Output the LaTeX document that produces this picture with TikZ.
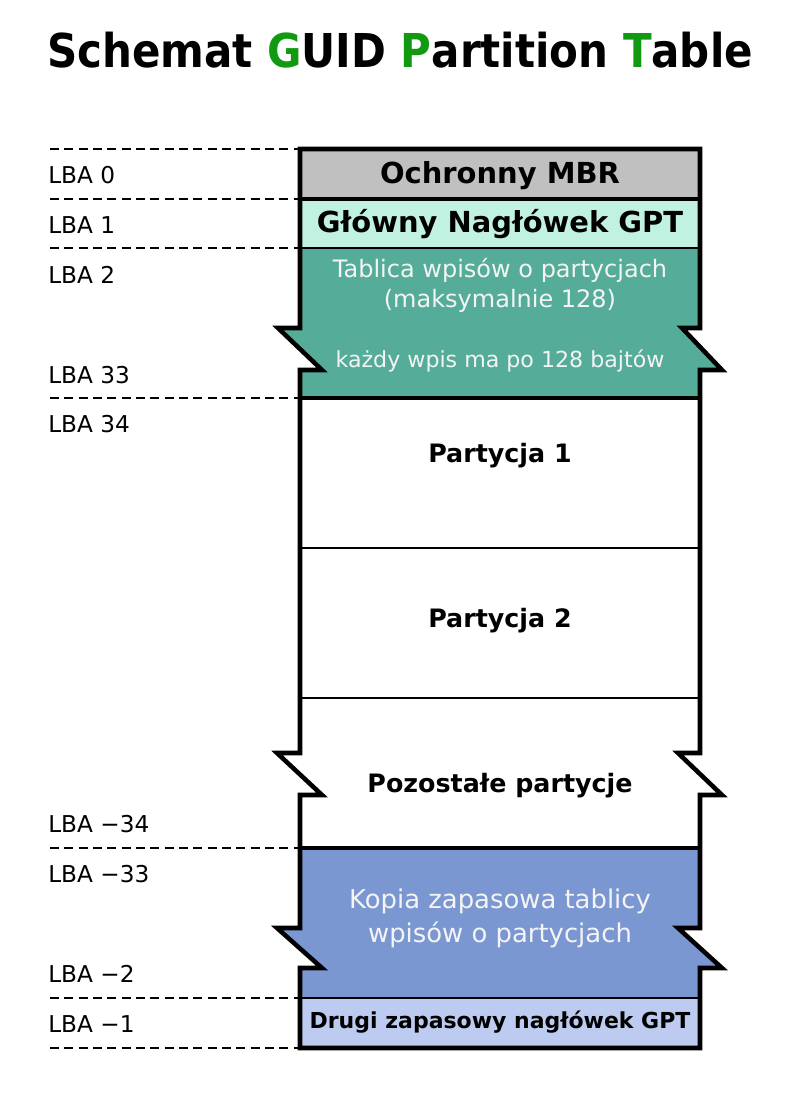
\documentclass[tikz,border=0pt]{standalone}
\usepackage{fontspec}
\setmainfont{DejaVu Sans}
\newfontfamily\titlefont{DejaVu Sans Condensed}
\definecolor{mbrgray}{HTML}{C0C0C0}
\definecolor{hdrmint}{HTML}{C1F1E1}
\definecolor{tblteal}{HTML}{55AD99}
\definecolor{bkblue}{HTML}{7B97D1}
\definecolor{bkhdr}{HTML}{BCCBEF}
\definecolor{ttlgreen}{HTML}{119A11}
\definecolor{wtext}{HTML}{F4F4F4}
\tikzset{
  outline/.style={line width=3.4pt, line join=miter, miter limit=10},
  thickdiv/.style={line width=3pt},
  thindiv/.style={line width=1.5pt},
  lbaline/.style={dashed, line width=1.6pt, dash pattern=on 6.75pt off 4pt},
  lba/.style={anchor=base west, inner sep=0pt, font=\fontsize{17.4}{20}\selectfont},
  boldlbl/.style={anchor=base, inner sep=0pt, font=\bfseries\fontsize{21.7}{25}\selectfont},
  partlbl/.style={anchor=base, inner sep=0pt, font=\bfseries\fontsize{19}{22}\selectfont},
  whitelbl/.style={anchor=base, inner sep=0pt, text=wtext},
}
\begin{document}
\begin{tikzpicture}[x=0.75pt, y=-0.75pt]
\useasboundingbox (0,0) rectangle (800,1100);
\fill[white] (0,0) rectangle (800,1100);

% Title
\node[anchor=base, inner sep=0pt, font=\titlefont\bfseries\fontsize{35}{40}\selectfont] (title) at (400,67)
  {Schemat \textcolor{ttlgreen}{G}UID \textcolor{ttlgreen}{P}artition \textcolor{ttlgreen}{T}able};

% Region fills
\fill[mbrgray] (300,149) rectangle (700,199);
\fill[hdrmint] (300,199) rectangle (700,248);
\fill[tblteal] (300,248) -- (700,248) -- (700,328) -- (682,328) -- (722,370) -- (700,370) -- (700,398)
  -- (300,398) -- (300,370) -- (322,370) -- (278,328) -- (300,328) -- cycle;
\fill[white] (300,398) -- (700,398) -- (700,753) -- (678,753) -- (722,795) -- (700,795) -- (700,848)
  -- (300,848) -- (300,795) -- (322,795) -- (277,753) -- (300,753) -- cycle;
\fill[bkblue] (300,848) -- (700,848) -- (700,928) -- (678,928) -- (722,968) -- (700,968) -- (700,998)
  -- (300,998) -- (300,968) -- (322,968) -- (277,928) -- (300,928) -- cycle;
\fill[bkhdr] (300,998) rectangle (700,1048);

% Dividers
\draw[thickdiv] (300,199) -- (700,199);
\draw[thindiv] (300,248) -- (700,248);
\draw[thickdiv] (300,398) -- (700,398);
\draw[thindiv] (300,548) -- (700,548);
\draw[thindiv] (300,698) -- (700,698);
\draw[thickdiv] (300,848) -- (700,848);
\draw[thindiv] (300,998) -- (700,998);

% Outline
\draw[outline] (300,149) -- (700,149)
  -- (700,328) -- (682,328) -- (722,370) -- (700,370)
  -- (700,753) -- (678,753) -- (722,795) -- (700,795)
  -- (700,928) -- (678,928) -- (722,968) -- (700,968)
  -- (700,1048) -- (300,1048)
  -- (300,968) -- (322,968) -- (277,928) -- (300,928)
  -- (300,795) -- (322,795) -- (277,753) -- (300,753)
  -- (300,370) -- (322,370) -- (278,328) -- (300,328)
  -- cycle;

% Dashed LBA lines
\foreach \yy in {149,199,248,398,848,998,1048} {
  \draw[lbaline] (50,\yy) -- (298,\yy);
}

% LBA labels
\node[lba] (lba0) at (48,183) {LBA 0};
\node[lba] (lba1) at (48,233) {LBA 1};
\node[lba] (lba2) at (48,283) {LBA 2};
\node[lba] (lba33) at (48,383) {LBA 33};
\node[lba] (lba34) at (48,432) {LBA 34};
\node[lba] (lbam34) at (48,832) {LBA −34};
\node[lba] (lbam33) at (48,882) {LBA −33};
\node[lba] (lbam2) at (48,982) {LBA −2};
\node[lba] (lbam1) at (48,1032) {LBA −1};

% Region labels
\node[boldlbl] (mbr) at (500,183) {Ochronny MBR};
\node[boldlbl] (hdr) at (500,232) {Główny Nagłówek GPT};
\node[whitelbl, font=\fontsize{18}{21}\selectfont] (tbl1) at (500,277) {Tablica wpisów o partycjach};
\node[whitelbl, font=\fontsize{18}{21}\selectfont] (tbl2) at (500,307) {(maksymalnie 128)};
\node[whitelbl, font=\fontsize{16.6}{20}\selectfont] (tbl3) at (500,367) {każdy wpis ma po 128 bajtów};
\node[partlbl] (p1) at (500,462) {Partycja 1};
\node[partlbl] (p2) at (500,627) {Partycja 2};
\node[partlbl] (prest) at (500,792) {Pozostałe partycje};
\node[whitelbl, font=\fontsize{19.4}{23}\selectfont] (bk1) at (500,908) {Kopia zapasowa tablicy};
\node[whitelbl, font=\fontsize{19.4}{23}\selectfont] (bk2) at (500,942) {wpisów o partycjach};
\node[anchor=base, inner sep=0pt, font=\bfseries\fontsize{16.5}{19}\selectfont] (bkhdr) at (500,1028) {Drugi zapasowy nagłówek GPT};
\end{tikzpicture}
\end{document}
